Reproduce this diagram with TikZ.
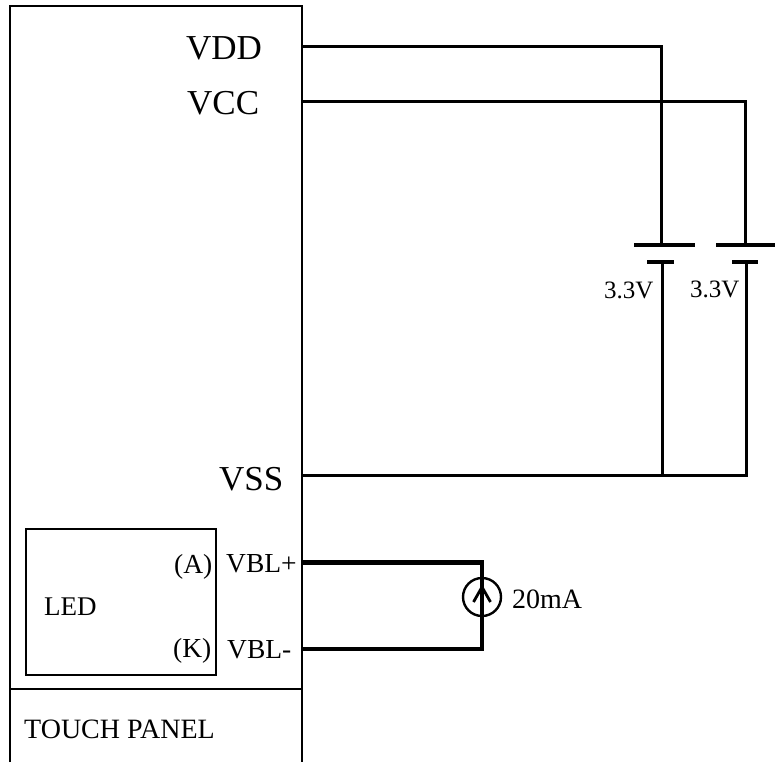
\documentclass[tikz,border=0pt]{standalone}
\usepackage{fontspec}
\setmainfont{Liberation Serif}

\begin{document}
\begin{tikzpicture}[x=1pt,y=-1pt,line join=miter]

    \tikzstyle{box}=[line width=2pt]
    \tikzstyle{wire}=[line width=3pt]
    \tikzstyle{heavy}=[line width=4.4pt]
    \tikzstyle{plate}=[line width=3.8pt]
    \tikzstyle{label}=[inner sep=0pt,anchor=base west,text=black]

    \useasboundingbox (0,0) rectangle (775,762);

    % module outline
    \coordinate (tl) at (9.5,6);
    \coordinate (tr) at (301.5,6);
    \coordinate (bl) at (9.5,762);
    \coordinate (br) at (301.5,762);
    \draw[box] (bl) -- (tl) -- (tr) -- (br);
    \draw[box] (9.5,688.5) coordinate (dl) -- (301.5,688.5) coordinate (dr);
    \node[draw,box,minimum width=190pt,minimum height=146pt,inner sep=0pt] (led) at (121,601.5) {};

    \node[label,font=\fontsize{35}{35}\selectfont] (vdd) at (186,60) {VDD};
    \node[label,font=\fontsize{35}{35}\selectfont] (vcc) at (187,115) {VCC};
    \node[label,font=\fontsize{35}{35}\selectfont] (vss) at (219,490) {VSS};
    \node[label,font=\fontsize{27.5}{27.5}\selectfont] (vblp) at (226,572) {VBL+};
    \node[label,font=\fontsize{27.5}{27.5}\selectfont] (vbln) at (227,658) {VBL-};
    \node[label,font=\fontsize{27.5}{27.5}\selectfont] (anode) at (174,573) {(A)};
    \node[label,font=\fontsize{27.5}{27.5}\selectfont] (cathode) at (173,657) {(K)};
    \node[label,font=\fontsize{27}{27}\selectfont] (ledname) at (44,615) {LED};
    \node[label,font=\fontsize{28}{28}\selectfont] (touch) at (24,738) {TOUCH PANEL};
    \node[label,font=\fontsize{25}{25}\selectfont] (va) at (604,298) {3.3V};
    \node[label,font=\fontsize{25}{25}\selectfont] (vb) at (690,297) {3.3V};
    \node[label,font=\fontsize{28}{28}\selectfont] (amp) at (512,608) {20mA};

    % supplies
    \coordinate (pdd) at (301.5,47);
    \coordinate (pcc) at (301.5,102);
    \coordinate (pss) at (301.5,475);
    \coordinate (topa) at (661,245);
    \coordinate (topb) at (745,245);
    \coordinate (bota) at (662,262);
    \coordinate (botb) at (746,262);
    \coordinate (enda) at (662,475);
    \coordinate (endb) at (746,475);

    \draw[wire] (pdd) -| (topa);
    \draw[wire] (pcc) -| (topb);
    \draw[wire] (bota) -- (enda);
    \draw[wire] (pss) -| (botb);

    \draw[plate] (634,245) coordinate (al) -- (695,245) coordinate (ar);
    \draw[plate] (647,262) coordinate (cl) -- (674,262) coordinate (cr);
    \draw[plate] (716,245) coordinate (bl2) -- (775,245) coordinate (br2);
    \draw[plate] (732,262) coordinate (dl2) -- (758,262) coordinate (dr2);

    % backlight
    \coordinate (pplus) at (301.5,562.5);
    \coordinate (pminus) at (301.5,649);
    \coordinate (kink) at (482,562.5);
    \draw[heavy] (pplus) -- (kink) -- (482,649) coordinate (kinkb) -- (pminus);
    \node[draw,line width=2.4pt,circle,minimum size=38pt,inner sep=0pt] (source) at (482,597) {};
    \coordinate (ha) at (473.5,602);
    \coordinate (hb) at (482,587);
    \coordinate (hc) at (490.5,602);
    \draw[line width=2.8pt] (ha) -- (hb) -- (hc);

\end{tikzpicture}
\end{document}
